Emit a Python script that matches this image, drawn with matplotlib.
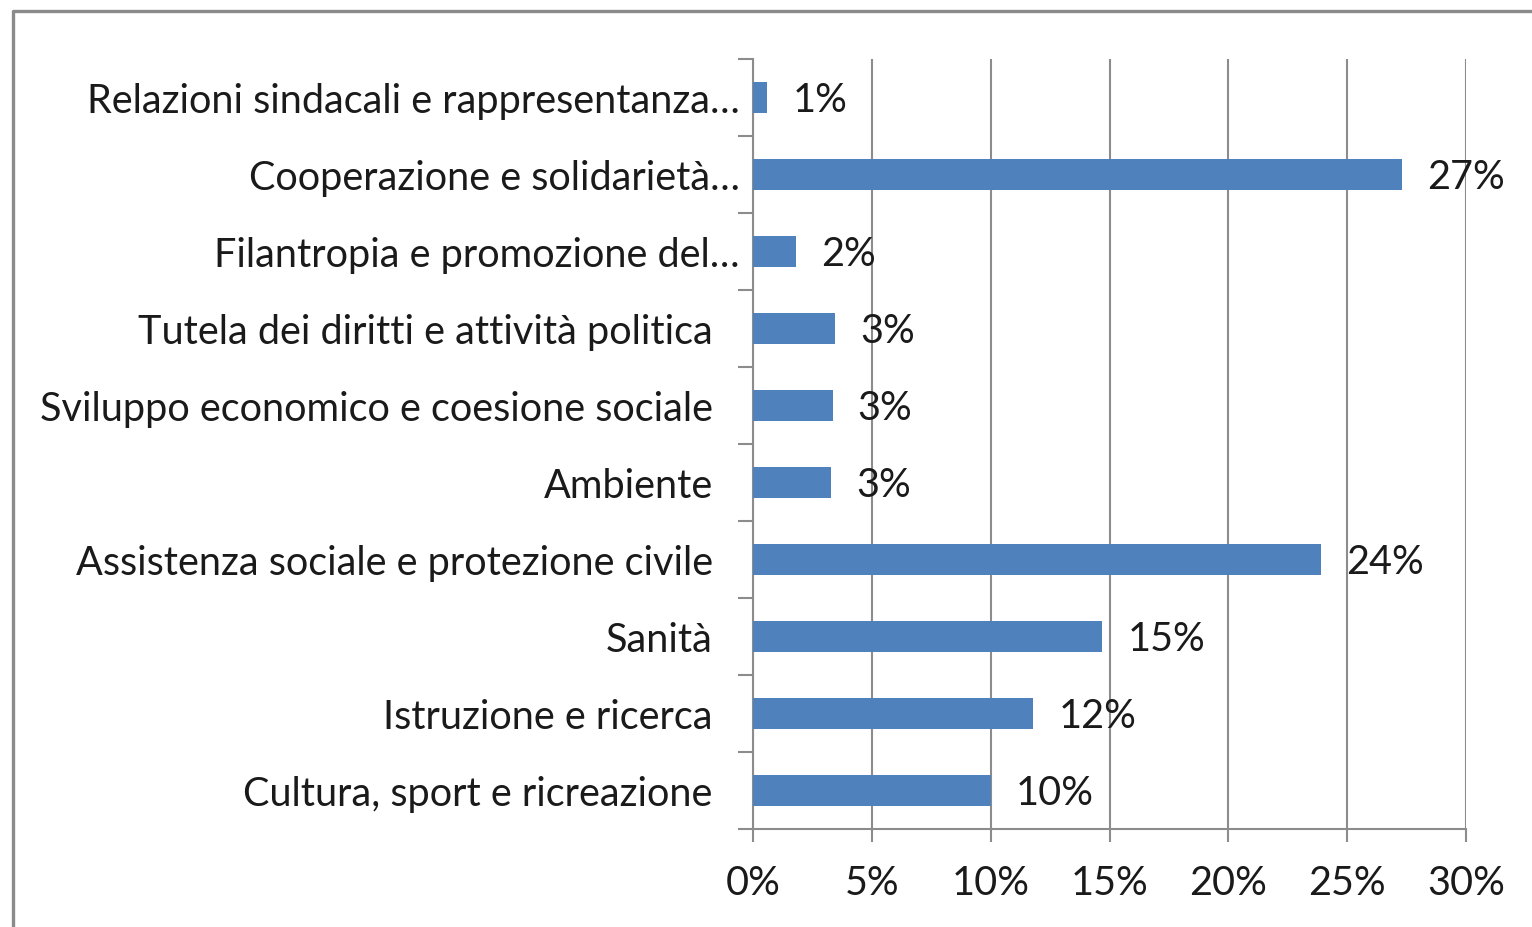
import matplotlib
matplotlib.use("Agg")
import matplotlib.pyplot as plt
import matplotlib.transforms as mtransforms
from matplotlib.lines import Line2D
from matplotlib.ticker import FuncFormatter, MultipleLocator
import numpy as np

# categorie dal basso verso l'alto
categories = [
    "Cultura, sport e ricreazione",
    "Istruzione e ricerca",
    "Sanità",
    "Assistenza sociale e protezione civile",
    "Ambiente",
    "Sviluppo economico e coesione sociale",
    "Tutela dei diritti e attività politica",
    "Filantropia e promozione del…",
    "Cooperazione e solidarietà…",
    "Relazioni sindacali e rappresentanza…",
]
values = [10.0, 11.8, 14.7, 23.9, 3.3, 3.35, 3.45, 1.8, 27.3, 0.6]
value_labels = ["10%", "12%", "15%", "24%", "3%", "3%", "3%", "2%", "27%", "1%"]
x_ticks = [0, 5, 10, 15, 20, 25, 30]

W, H = 1532, 928
DPI = 100
FONT = "Lato"
FS = 28.5
GRAY = "#8c8c8c"
BAR = "#4f81bd"

plt.rcParams["font.family"] = [FONT, "DejaVu Sans"]

fig = plt.figure(figsize=(W / DPI, H / DPI), dpi=DPI)
ax = fig.add_axes([753 / W, (H - 830) / H, (1466 - 753) / W, (830 - 60) / H])

y = np.arange(len(categories))
ax.barh(y, values, height=0.4, color=BAR, zorder=3)

# etichette dati
for yi, v, lab in zip(y, values, value_labels):
    ax.annotate(lab, (v, yi), xytext=(18, -1.5), textcoords="offset points",
                ha="left", va="center", fontsize=FS, color="#1a1a1a", zorder=4)

ax.set_xlim(0, 30)
ax.set_ylim(-0.5, len(categories) - 0.5)
ax.xaxis.set_major_locator(MultipleLocator(5))
ax.xaxis.set_major_formatter(FuncFormatter(lambda v, p: f"{v:.0f}%"))
ax.set_xticks(x_ticks)

ax.set_yticks(y)
ax.set_yticklabels(categories)
ax.set_yticks(np.arange(-0.5, len(categories)), minor=True)
ax.tick_params(axis="y", which="major", length=0, pad=29, labelsize=FS,
               labelcolor="#1a1a1a")
ax.tick_params(axis="y", which="minor", length=11, width=1.5, color=GRAY)
ax.tick_params(axis="x", which="major", length=9.5, width=1.5, color=GRAY,
               pad=16, labelsize=FS, labelcolor="#1a1a1a")

# le etichette troncate finiscono piu' a destra
shift = mtransforms.ScaledTranslation(27 / DPI, 0, fig.dpi_scale_trans)
for t in ax.get_yticklabels():
    if t.get_text().endswith("…"):
        t.set_transform(t.get_transform() + shift)

ax.grid(axis="x", color=GRAY, linewidth=1.5, zorder=0)
for s in ["top", "right"]:
    ax.spines[s].set_visible(False)
for s in ["left", "bottom"]:
    ax.spines[s].set_color(GRAY)
    ax.spines[s].set_linewidth(1.5)

# bordo esterno del grafico
bx, by = 12.5 / W, 1 - 11.5 / H
fig.add_artist(Line2D([bx, bx, 1.0], [0.0, by, by], transform=fig.transFigure,
                      color="#8a8a8a", linewidth=2.4))

fig.savefig("out.png", dpi=DPI)
